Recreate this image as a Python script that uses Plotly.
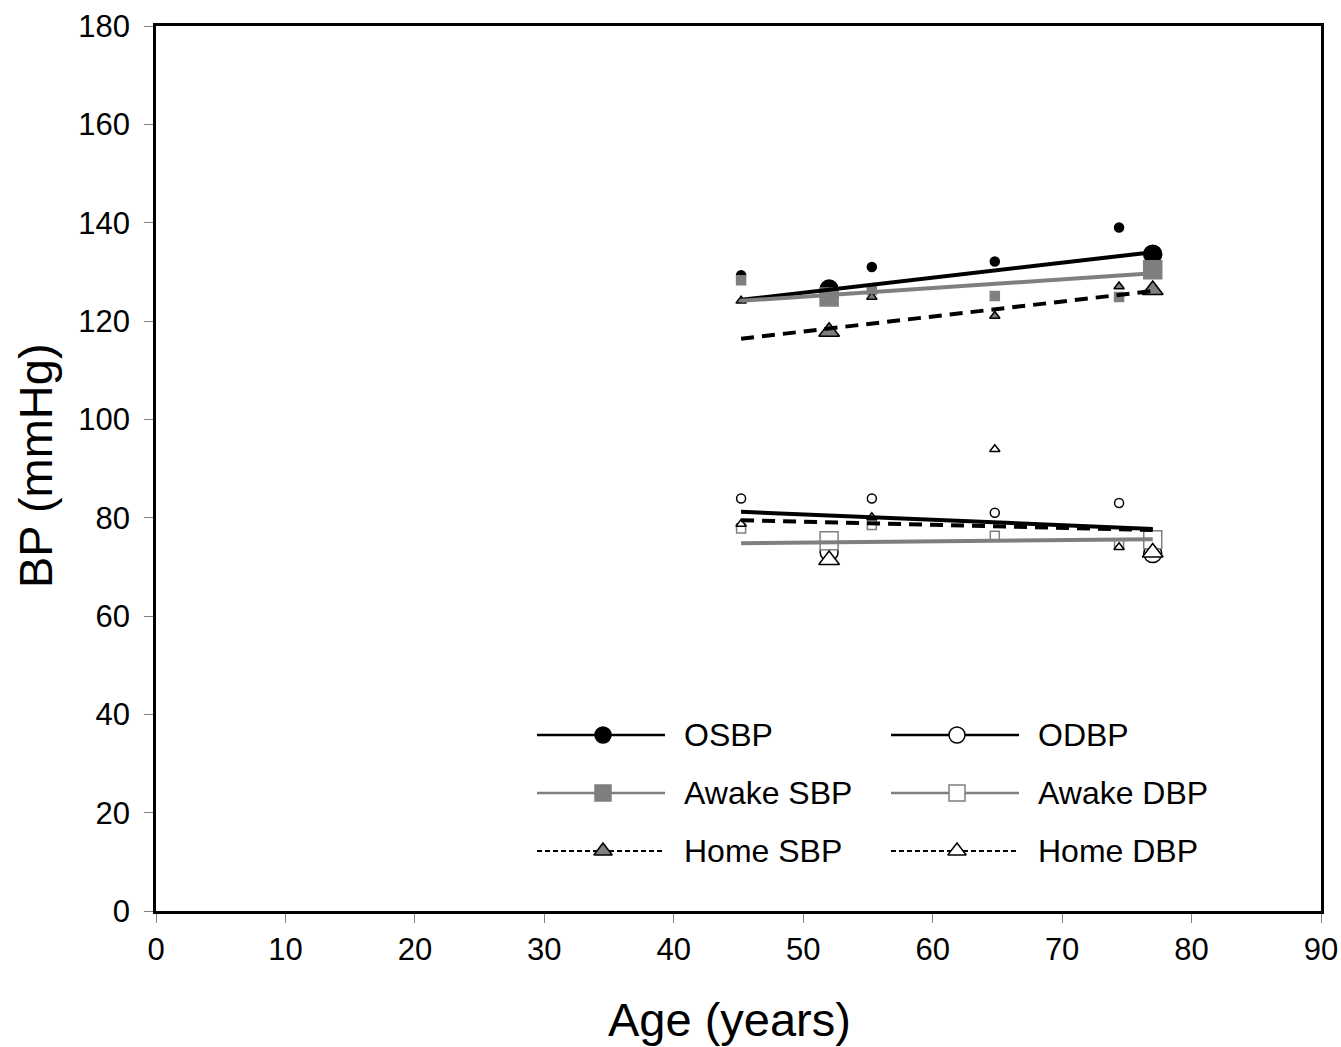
import plotly.graph_objects as go

# ---- data ----
ages = [45.2, 55.3, 64.8, 74.4]          # individual subjects
ages_big = [52.0, 77.0]                  # highlighted subjects (large markers)
trend_ages = [45.2, 77.0]                # regression line span

osbp = [129.3, 131.0, 132.1, 139.0]
osbp_big = [126.5, 133.6]
osbp_fit = [124.3, 134.0]

awake_sbp = [128.3, 126.3, 125.1, 124.9]
awake_sbp_big = [124.9, 130.4]
awake_sbp_fit = [124.1, 129.7]

home_sbp = [124.1, 124.9, 121.0, 127.0]
home_sbp_big = [117.8, 126.3]
home_sbp_fit = [116.4, 126.1]

odbp = [83.9, 83.9, 81.0, 83.0]
odbp_big = [73.0, 72.7]
odbp_fit = [81.2, 77.7]

awake_dbp = [77.8, 78.5, 76.3, 74.8]
awake_dbp_big = [75.3, 75.5]
awake_dbp_fit = [74.8, 75.6]

home_dbp = [78.7, 80.1, 93.9, 74.0]
home_dbp_big = [71.4, 72.9]
home_dbp_fit = [79.5, 77.5]

legend_labels = ["OSBP", "ODBP", "Awake SBP", "Awake DBP", "Home SBP", "Home DBP"]
x_ticks = list(range(0, 91, 10))
y_ticks = list(range(0, 181, 20))

GRAY = "#7f7f7f"
FONT = "Liberation Sans, Arial, sans-serif"

series = [
    # name, pts, big, fit, line color, dash, marker symbol, fill, outline
    ("OSBP", osbp, osbp_big, osbp_fit, "black", "solid", "circle", "black", "black"),
    ("ODBP", odbp, odbp_big, odbp_fit, "black", "solid", "circle", "white", "black"),
    ("Awake SBP", awake_sbp, awake_sbp_big, awake_sbp_fit, GRAY, "solid", "square", GRAY, GRAY),
    ("Awake DBP", awake_dbp, awake_dbp_big, awake_dbp_fit, GRAY, "solid", "square", "white", GRAY),
    ("Home SBP", home_sbp, home_sbp_big, home_sbp_fit, "black", "dash", "triangle-up", GRAY, "black"),
    ("Home DBP", home_dbp, home_dbp_big, home_dbp_fit, "black", "dash", "triangle-up", "white", "black"),
]

fig = go.Figure()

for name, pts, big, fit, lc, dash, sym, fill, outl in series:
    fig.add_trace(go.Scatter(x=ages, y=pts, mode="markers", showlegend=False,
                             marker=dict(symbol=sym, size=9, color=fill,
                                         line=dict(color=outl, width=1.5))))
for name, pts, big, fit, lc, dash, sym, fill, outl in series:
    fig.add_trace(go.Scatter(x=ages_big, y=big, mode="markers", showlegend=False,
                             marker=dict(symbol=sym, size=18, color=fill,
                                         line=dict(color=outl, width=1.5))))
for name, pts, big, fit, lc, dash, sym, fill, outl in series:
    fig.add_trace(go.Scatter(x=trend_ages, y=fit, mode="lines", showlegend=False,
                             line=dict(color=lc, width=4,
                                       dash="solid" if dash == "solid" else "13px,8px")))

# ---- custom legend drawn on a pixel-scaled overlay axis (page pixel coords) ----
col_x = [537, 891]
row_y = [735, 793, 851]
for i, (name, pts, big, fit, lc, dash, sym, fill, outl) in enumerate(series):
    cx = col_x[i % 2]
    ry = row_y[i // 2]
    fig.add_trace(go.Scatter(
        x=[cx, cx + 128], y=[ry, ry], mode="lines", xaxis="x2", yaxis="y2",
        showlegend=False, hoverinfo="skip",
        line=dict(color=lc, width=2.5 if dash == "solid" else 2,
                  dash="solid" if dash == "solid" else "5px,3px")))
    fig.add_trace(go.Scatter(
        x=[cx + 66], y=[ry], mode="markers", xaxis="x2", yaxis="y2",
        showlegend=False, hoverinfo="skip",
        marker=dict(symbol=sym, size=16, color=fill, line=dict(color=outl, width=1.5))))
    fig.add_annotation(x=cx + 145, y=ry, xref="x2", yref="y2", text=legend_labels[i],
                       showarrow=False, xanchor="left", yanchor="middle",
                       font=dict(size=32, color="black", family=FONT))

# axis titles (paper coords; plot area spans page px 156..1321 x 26..911)
PL, PW, PB, PH = 156, 1165, 911, 885
fig.add_annotation(x=(729 - PL) / PW, y=(PB - 1020) / PH, xref="paper", yref="paper",
                   text="Age (years)", showarrow=False, xanchor="center", yanchor="middle",
                   font=dict(size=47, color="black", family=FONT))
fig.add_annotation(x=(35 - PL) / PW, y=(PB - 466) / PH, xref="paper", yref="paper",
                   text="BP (mmHg)", showarrow=False, xanchor="center", yanchor="middle",
                   textangle=-90, font=dict(size=47, color="black", family=FONT))

axis_common = dict(ticks="outside", ticklen=9, tickwidth=1, tickcolor="#808080",
                   showline=True, linecolor="black", linewidth=2.5, mirror=True,
                   showgrid=False, zeroline=False, automargin=False,
                   tickfont=dict(size=31, color="black", family=FONT))

fig.update_layout(
    width=1341, height=1047,
    margin=dict(l=156, r=20, t=26, b=136, autoexpand=False),
    paper_bgcolor="white", plot_bgcolor="white",
    font=dict(family=FONT, color="black"),
    xaxis=dict(range=[0, 90], tickvals=x_ticks, **axis_common),
    yaxis=dict(range=[0, 180], tickvals=y_ticks, ticklabelstandoff=8, **axis_common),
    xaxis2=dict(range=[156, 1321], overlaying="x", visible=False, anchor="y2"),
    yaxis2=dict(range=[911, 26], overlaying="y", visible=False, anchor="x2"),
)

fig.write_html("out.html", config={"displayModeBar": False},
               post_script="document.body.style.margin='0';document.body.style.overflow='hidden';")
